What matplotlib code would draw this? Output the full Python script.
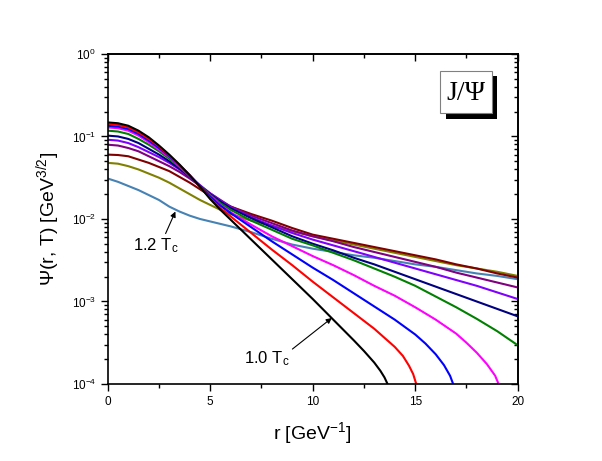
"""
Radial J/Psi wave functions Psi(r, T) for temperatures from 1.0 Tc to 1.2 Tc.

Values are read off the reference figure (log10 of Psi), one list per curve.
Run: python3 plot.py  -> out.png
"""

import matplotlib

matplotlib.use("Agg")
import matplotlib.pyplot as plt
from matplotlib.patches import Rectangle
from matplotlib.ticker import MultipleLocator, LogLocator, NullFormatter

# ---- DATA (log10 Psi) ----------------------------------------------------

# shared radial grid for curves that run to r = 20
r_full = [0, 0.5, 1, 1.5, 2, 2.5, 3, 3.5, 4, 4.5, 5, 5.5, 6,
          7, 8, 9, 10, 11, 12, 13, 14, 15, 16, 17, 18, 19, 20]

r_black = [0, 0.5, 1, 1.5, 2, 2.5, 3, 3.5, 4, 4.5, 5, 5.5, 6,
           7, 8, 9, 10, 11, 12, 12.5, 13, 13.3, 13.5, 13.65, 13.8]
log_black = [-0.83, -0.84, -0.87, -0.93, -1.01, -1.11, -1.22, -1.34, -1.47, -1.61, -1.76, -1.89, -2.01,
             -2.25, -2.49, -2.73, -2.97, -3.22, -3.47, -3.60, -3.74, -3.84, -3.92, -4.0, -4.1]

r_red = [0, 0.5, 1, 1.5, 2, 2.5, 3, 3.5, 4, 4.5, 5, 5.5, 6,
         7, 8, 9, 10, 11, 12, 13, 14, 14.4, 14.7, 14.9, 15.05, 15.15]
log_red = [-0.85, -0.86, -0.89, -0.95, -1.03, -1.12, -1.23, -1.35, -1.47, -1.61, -1.75, -1.87, -1.97,
           -2.17, -2.37, -2.56, -2.76, -2.95, -3.14, -3.33, -3.55, -3.66, -3.78, -3.88, -4.0, -4.1]

r_blue = [0, 0.5, 1, 1.5, 2, 2.5, 3, 3.5, 4, 4.5, 5, 5.5, 6,
          7, 8, 9, 10, 11, 12, 13, 14, 15, 15.5, 16, 16.4, 16.7, 16.85, 17]
log_blue = [-0.87, -0.88, -0.91, -0.97, -1.05, -1.14, -1.24, -1.35, -1.47, -1.60, -1.73, -1.84, -1.93,
            -2.10, -2.27, -2.43, -2.59, -2.74, -2.90, -3.06, -3.22, -3.40, -3.51, -3.64, -3.77, -3.90,
            -4.0, -4.1]

r_magenta = [0, 0.5, 1, 1.5, 2, 2.5, 3, 3.5, 4, 4.5, 5, 5.5, 6,
             7, 8, 9, 10, 11, 12, 13, 14, 15, 16, 17, 17.5, 18, 18.5, 18.9, 19.1, 19.25]
log_magenta = [-0.89, -0.90, -0.93, -0.99, -1.07, -1.16, -1.25, -1.36, -1.48, -1.60, -1.72, -1.83, -1.92,
               -2.07, -2.21, -2.33, -2.45, -2.56, -2.68, -2.81, -2.93, -3.07, -3.22, -3.39, -3.50,
               -3.62, -3.76, -3.90, -4.02, -4.12]

log_green = [-0.93, -0.94, -0.97, -1.03, -1.10, -1.18, -1.27, -1.37, -1.48, -1.60, -1.71, -1.81, -1.89,
             -2.02, -2.13, -2.24, -2.32, -2.41, -2.50, -2.60, -2.70, -2.81, -2.94, -3.07, -3.21, -3.36, -3.53]
log_navy = [-0.99, -1.00, -1.03, -1.08, -1.15, -1.22, -1.30, -1.39, -1.49, -1.60, -1.70, -1.79, -1.87,
            -1.99, -2.10, -2.21, -2.30, -2.38, -2.47, -2.55, -2.64, -2.73, -2.82, -2.91, -3.00, -3.09, -3.18]
log_violet = [-1.04, -1.05, -1.08, -1.13, -1.19, -1.25, -1.32, -1.40, -1.49, -1.59, -1.69, -1.78, -1.86,
              -1.98, -2.08, -2.17, -2.25, -2.32, -2.39, -2.46, -2.53, -2.60, -2.67, -2.74, -2.81, -2.89, -2.97]
log_purple = [-1.10, -1.11, -1.14, -1.18, -1.24, -1.30, -1.36, -1.43, -1.51, -1.60, -1.69, -1.77, -1.85,
              -1.96, -2.05, -2.14, -2.21, -2.27, -2.34, -2.40, -2.46, -2.52, -2.58, -2.65, -2.71, -2.77, -2.83]
log_maroon = [-1.22, -1.225, -1.24, -1.28, -1.32, -1.37, -1.42, -1.49, -1.56, -1.64, -1.72, -1.79, -1.85,
              -1.94, -2.02, -2.11, -2.19, -2.24, -2.29, -2.34, -2.39, -2.44, -2.49, -2.55, -2.60, -2.66, -2.71]
log_olive = [-1.32, -1.33, -1.36, -1.40, -1.45, -1.50, -1.56, -1.63, -1.70, -1.77, -1.83, -1.89, -1.94,
             -2.02, -2.08, -2.15, -2.21, -2.26, -2.31, -2.36, -2.41, -2.46, -2.51, -2.56, -2.60, -2.64, -2.69]
log_steel = [-1.51, -1.55, -1.60, -1.65, -1.71, -1.77, -1.85, -1.91, -1.96, -2.00, -2.03, -2.06, -2.09,
             -2.16, -2.24, -2.31, -2.36, -2.40, -2.44, -2.47, -2.51, -2.55, -2.58, -2.62, -2.66, -2.69, -2.73]

# (r, log10 psi, colour) drawn in this order
CURVES = [
    (r_full, log_steel, "#4682B4"),
    (r_full, log_olive, "#808000"),
    (r_full, log_maroon, "#800000"),
    (r_full, log_purple, "#800080"),
    (r_full, log_violet, "#8000FF"),
    (r_full, log_navy, "#000080"),
    (r_full, log_green, "#008000"),
    (r_magenta, log_magenta, "#FF00FF"),
    (r_blue, log_blue, "#0000FF"),
    (r_red, log_red, "#FF0000"),
    (r_black, log_black, "#000000"),
]

LABEL_FONT = "Liberation Sans"


def main():
    plt.rcParams["font.family"] = [LABEL_FONT, "DejaVu Sans"]
    plt.rcParams["mathtext.fontset"] = "custom"
    plt.rcParams["mathtext.rm"] = LABEL_FONT
    plt.rcParams["mathtext.it"] = LABEL_FONT + ":italic"
    plt.rcParams["mathtext.default"] = "regular"

    fig = plt.figure(figsize=(6.02, 4.61), dpi=100)
    ax = fig.add_axes([0.179, 0.167, 0.681, 0.716])

    for r, logv, col in CURVES:
        ax.plot(r, [10 ** v for v in logv], color=col, lw=1.5,
                solid_joinstyle="round")

    ax.set_yscale("log")
    ax.set_xlim(0, 20)
    ax.set_ylim(1e-4, 1)

    ax.xaxis.set_major_locator(MultipleLocator(5))
    ax.xaxis.set_minor_locator(MultipleLocator(2.5))
    ax.yaxis.set_major_locator(LogLocator(base=10, numticks=10))
    ax.yaxis.set_minor_locator(LogLocator(base=10, subs=range(2, 10), numticks=20))
    ax.yaxis.set_minor_formatter(NullFormatter())

    for sp in ax.spines.values():
        sp.set_linewidth(1.2)
    ax.tick_params(which="both", direction="out", width=1.0, labelsize=8.5,
                   top=False, right=False)
    ax.tick_params(which="major", length=5)
    ax.tick_params(which="minor", length=3)

    # mirrored top / right axes with inward ticks, no labels
    top = ax.secondary_xaxis("top")
    top.xaxis.set_major_locator(MultipleLocator(5))
    top.xaxis.set_minor_locator(MultipleLocator(2.5))
    top.tick_params(which="both", direction="in", labeltop=False, width=1.0)
    top.tick_params(which="major", length=5)
    top.tick_params(which="minor", length=3)
    right = ax.secondary_yaxis("right")
    right.set_yscale("log")
    right.yaxis.set_major_locator(LogLocator(base=10, numticks=10))
    right.yaxis.set_minor_locator(LogLocator(base=10, subs=range(2, 10), numticks=20))
    right.tick_params(which="both", direction="in", labelright=False, width=1.0)
    right.tick_params(which="major", length=5)
    right.tick_params(which="minor", length=3)
    for sec in (top, right):
        for sp in sec.spines.values():
            sp.set_linewidth(1.2)

    ax.set_xlabel("r [GeV$^{-1}$]", fontsize=14, labelpad=9)
    ax.set_ylabel("\u03a8(r, T) [GeV$^{3/2}$]", fontsize=14, labelpad=7)

    # temperature annotations
    ax.annotate("1.2 T$_{c}$", xy=(3.3, 10 ** -1.91), xytext=(1.25, 10 ** -2.38),
                fontsize=12, ha="left", va="baseline",
                arrowprops=dict(arrowstyle="-|>", color="black", lw=0.8,
                                shrinkA=0, shrinkB=0, mutation_scale=8,
                                relpos=(0.68, 1.0)))
    ax.annotate("1.0 T$_{c}$", xy=(10.93, 10 ** -3.20), xytext=(6.65, 10 ** -3.75),
                fontsize=12, ha="left", va="baseline",
                arrowprops=dict(arrowstyle="-|>", color="black", lw=0.8,
                                shrinkA=0, shrinkB=0, mutation_scale=8,
                                relpos=(1.0, 0.9)))

    # boxed J/Psi tag with drop shadow
    ax.add_patch(Rectangle((0.826, 0.804), 0.124, 0.130, transform=ax.transAxes,
                           facecolor="black", edgecolor="none", zorder=5))
    ax.add_patch(Rectangle((0.811, 0.820), 0.126, 0.127, transform=ax.transAxes,
                           facecolor="white", edgecolor="#808080", lw=0.8, zorder=6))
    ax.text(0.874, 0.881, "J/\u03a8", transform=ax.transAxes, fontsize=20,
            family="Liberation Serif", ha="center", va="center", zorder=7)

    fig.savefig("out.png", dpi=100)


if __name__ == "__main__":
    main()
